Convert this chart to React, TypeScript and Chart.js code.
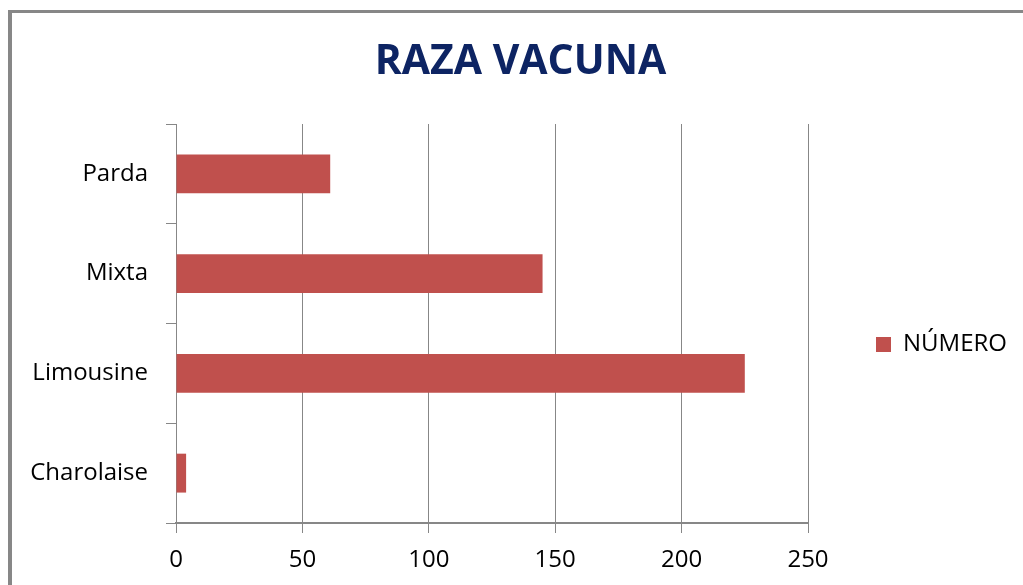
import React, { useEffect, useRef } from "react";
import { Chart, registerables } from "chart.js";

Chart.register(...registerables);

const categories = ["Charolaise", "Limousine", "Mixta", "Parda"];
const numero = [4, 225, 145, 61];
const xTicks = [0, 50, 100, 150, 200, 250];
const titleText = "RAZA VACUNA";
const seriesName = "NÚMERO";

const FONT = "'Open Sans', 'Liberation Sans', sans-serif";
const GRID = "#878787";
const LEGEND_W = 215;

const legendWidthPlugin = {
  id: "legendWidth",
  beforeLayout(chart: any) {
    const lg = chart.legend;
    if (lg && !lg.__wrapped) {
      const f = lg.fit.bind(lg);
      lg.fit = () => {
        f();
        lg.width = LEGEND_W;
      };
      lg.__wrapped = true;
    }
  },
};

export default function App() {
  const ref = useRef<HTMLCanvasElement | null>(null);
  useEffect(() => {
    if (!ref.current) return;
    const chart = new Chart(ref.current, {
      type: "bar",
      data: {
        labels: categories,
        datasets: [
          {
            label: seriesName,
            data: numero,
            backgroundColor: "#C0504D",
            borderWidth: 0,
            barPercentage: 0.39,
            categoryPercentage: 1,
          },
        ],
      },
      plugins: [legendWidthPlugin],
      options: {
        indexAxis: "y",
        responsive: false,
        animation: false,
        layout: { padding: { left: 18, right: 0, top: 0, bottom: 0 } },
        plugins: {
          title: {
            display: true,
            text: titleText,
            color: "#0D2463",
            font: { family: FONT, size: 41, weight: "bold" },
            padding: { top: 38, bottom: 36.8 },
          },
          legend: {
            position: "right",
            title: {
              display: true,
              text: " ",
              font: { family: FONT, size: 10 },
              padding: { top: 92, bottom: 0 },
            },
            labels: {
              boxWidth: 15,
              boxHeight: 15,
              padding: 68,
              color: "#000",
              font: { family: FONT, size: 24 },
            },
          },
          tooltip: { enabled: false },
        },
        scales: {
          x: {
            type: "linear",
            min: 0,
            max: 250,
            afterFit: (s: any) => {
              s.height = 62;
            },
            afterBuildTicks: (s: any) => {
              s.ticks = xTicks.map((v) => ({ value: v }));
            },
            ticks: {
              color: "#000",
              font: { family: FONT, size: 24 },
              padding: 13,
            },
            grid: { color: GRID, lineWidth: 1, tickLength: 10 },
            border: { color: GRID, width: 2 },
          },
          y: {
            type: "category",
            reverse: true,
            offset: true,
            afterFit: (s: any) => {
              s.width = 158;
            },
            ticks: {
              color: "#000",
              font: { family: FONT, size: 24 },
              padding: 18,
            },
            grid: {
              offset: true,
              drawOnChartArea: false,
              color: GRID,
              tickLength: 10,
            },
            border: { color: GRID, width: 1 },
          },
        },
      },
    });
    return () => chart.destroy();
  }, []);

  return (
    <div
      style={{
        position: "absolute",
        left: 0,
        top: 0,
        width: 1023,
        height: 585,
        overflow: "hidden",
        background: "#fff",
      }}
    >
      <div
        style={{
          position: "absolute",
          left: 8,
          top: 10,
          width: 1100,
          height: 700,
          borderLeft: "4px solid " + GRID,
          borderTop: "3px solid " + GRID,
        }}
      />
      <canvas
        ref={ref}
        width={1023}
        height={585}
        style={{ position: "absolute", left: 0, top: 0 }}
      />
    </div>
  );
}
